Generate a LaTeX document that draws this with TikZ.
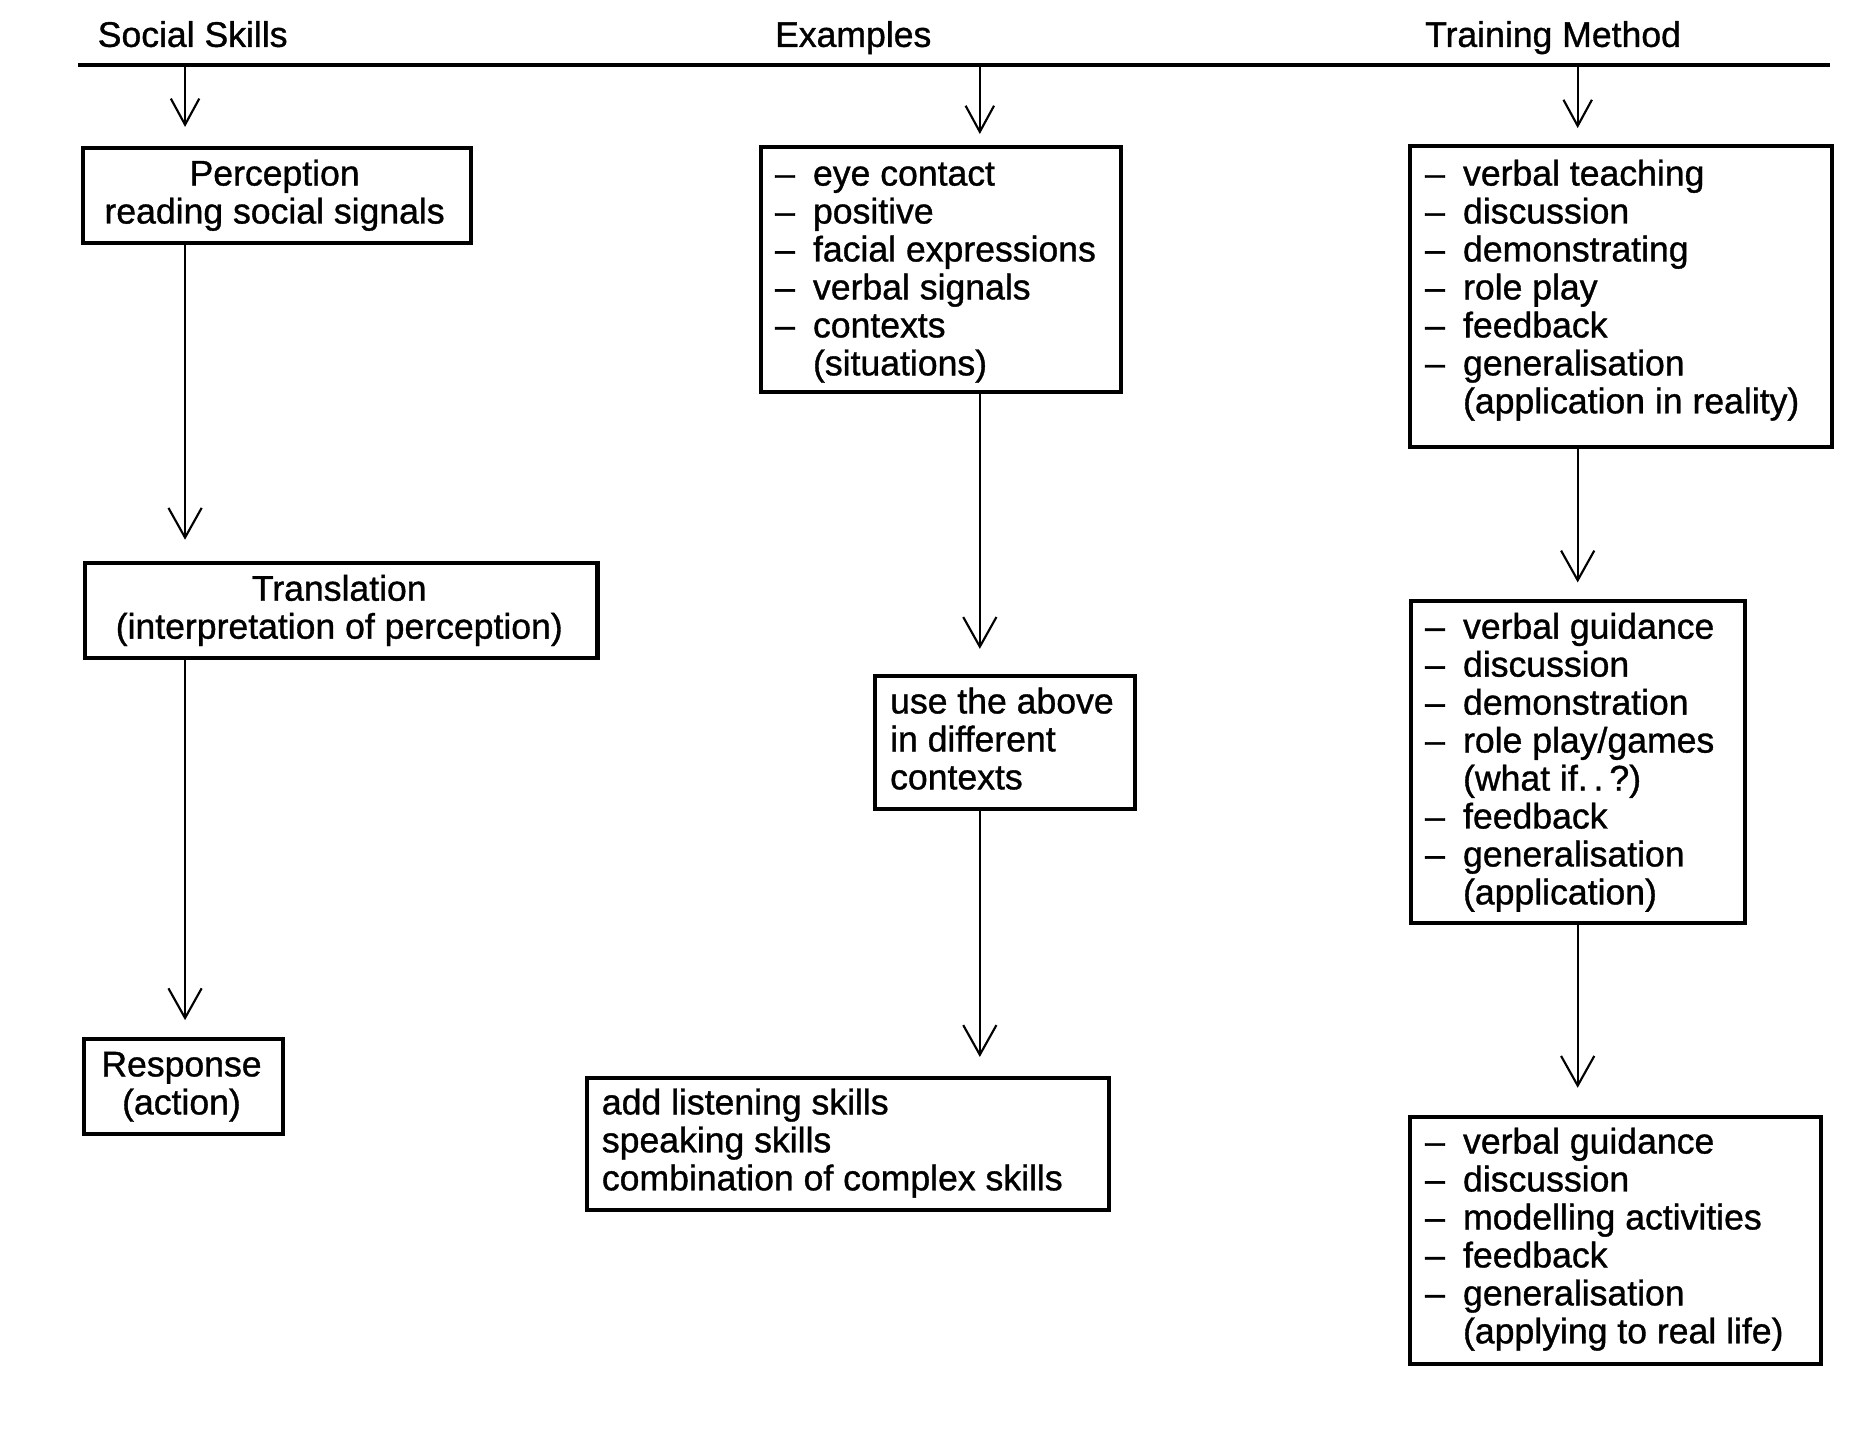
\documentclass[tikz,border=0pt]{standalone}
\usepackage{fontspec}
\setmainfont{Liberation Sans}[FakeBold=1]
\usetikzlibrary{arrows.meta}
\newcommand{\fs}{\rule{0pt}{12pt}}
\newcommand{\da}{\makebox[16pt][l]{–}}
\newcommand{\ind}{\hspace*{16pt}}
\tikzset{
  boxst/.style={draw, line width=1.7pt, inner sep=0pt, anchor=north west},
  txt/.style={inner sep=0pt, font=\fontsize{15pt}{16pt}\selectfont},
  ltxt/.style={txt, anchor=north west, align=left},
  ctxt/.style={txt, anchor=north, align=center},
  head/.style={txt, anchor=base west},
  arr/.style={line width=0.9pt, -{Straight Barb[length=12.5pt,width=14pt,line width=0.9pt]}},
  sarr/.style={line width=0.9pt, -{Straight Barb[length=11pt,width=12pt,line width=0.9pt]}},
}
\begin{document}
\begin{tikzpicture}[x=0.5pt,y=-0.5pt]
\fill[white] (0,0) rectangle (1568,1205);
\useasboundingbox (0,0) rectangle (1568,1205);

% headers
\node[head] (h1) at (82,39.5) {Social Skills};
\node[head] (h2) at (653,39.5) {Examples};
\node[head] (h3) at (1201,39.5) {Training Method};
\coordinate (tl) at (66,55);
\coordinate (tr) at (1543,55);
\draw[line width=1.7pt] (tl) -- (tr);

\coordinate (cL) at (156,55);
\coordinate (cM) at (826,55);
\coordinate (cR) at (1330,55);

% boxes
\node[boxst, minimum width=163.5pt, minimum height=40pt] (P) at (68,123) {};
\node[boxst, minimum width=216pt, minimum height=40pt] (T) at (70,473) {};
\node[boxst, minimum width=84pt, minimum height=40pt] (R) at (69,874) {};
\node[boxst, minimum width=151.5pt, minimum height=103.5pt] (E) at (640,122) {};
\node[boxst, minimum width=109.5pt, minimum height=56pt] (U) at (736,568) {};
\node[boxst, minimum width=220pt, minimum height=55.5pt] (Ad) at (493,907) {};
\node[boxst, minimum width=178pt, minimum height=127pt] (A) at (1187,121) {};
\node[boxst, minimum width=140.5pt, minimum height=135.5pt] (B) at (1188,505) {};
\node[boxst, minimum width=173pt, minimum height=104pt] (C) at (1187,940) {};

% texts
\node[ctxt] (Pt) at (231.5,132) {\fs Perception\\reading social signals};
\node[ctxt] (Tt) at (286,482) {\fs Translation\\(interpretation of perception)};
\node[ctxt] (Rt) at (153,883) {\fs Response\\(action)};
\node[ltxt] (Et) at (653,132) {\fs\da eye contact\\\da positive\\\da facial expressions\\\da verbal signals\\\da contexts\\\ind(situations)};
\node[ltxt] (Ut) at (750,577) {\fs use the above\\in different\\contexts};
\node[ltxt] (Adt) at (507,915) {\fs add listening skills\\speaking skills\\combination of complex skills};
\node[ltxt] (At) at (1201,132) {\fs\da verbal teaching\\\da discussion\\\da demonstrating\\\da role play\\\da feedback\\\da generalisation\\\ind(application in reality)};
\node[ltxt] (Bt) at (1201,514) {\fs\da verbal guidance\\\da discussion\\\da demonstration\\\da role play/games\\\ind(what if.\,.\,?)\\\da feedback\\\da generalisation\\\ind(application)};
\node[ltxt] (Ct) at (1201,948) {\fs\da verbal guidance\\\da discussion\\\da modelling activities\\\da feedback\\\da generalisation\\\ind(applying to real life)};

% connectors
\draw[sarr, shorten >=8pt] (cL) -- (cL |- P.north);
\draw[sarr, shorten >=4.5pt] (cM) -- (cM |- E.north);
\draw[sarr, shorten >=6.5pt] (cR) -- (cR |- A.north);
\draw[arr, shorten >=9pt] (P.south -| cL) -- (T.north -| cL);
\draw[arr, shorten >=7pt] (T.south -| cL) -- (R.north -| cL);
\draw[arr, shorten >=10.5pt] (E.south -| cM) -- (U.north -| cM);
\draw[arr, shorten >=8pt] (U.south -| cM) -- (Ad.north -| cM);
\draw[arr, shorten >=7pt] (A.south -| cR) -- (B.north -| cR);
\draw[arr, shorten >=11.5pt] (B.south -| cR) -- (C.north -| cR);
\end{tikzpicture}
\end{document}
